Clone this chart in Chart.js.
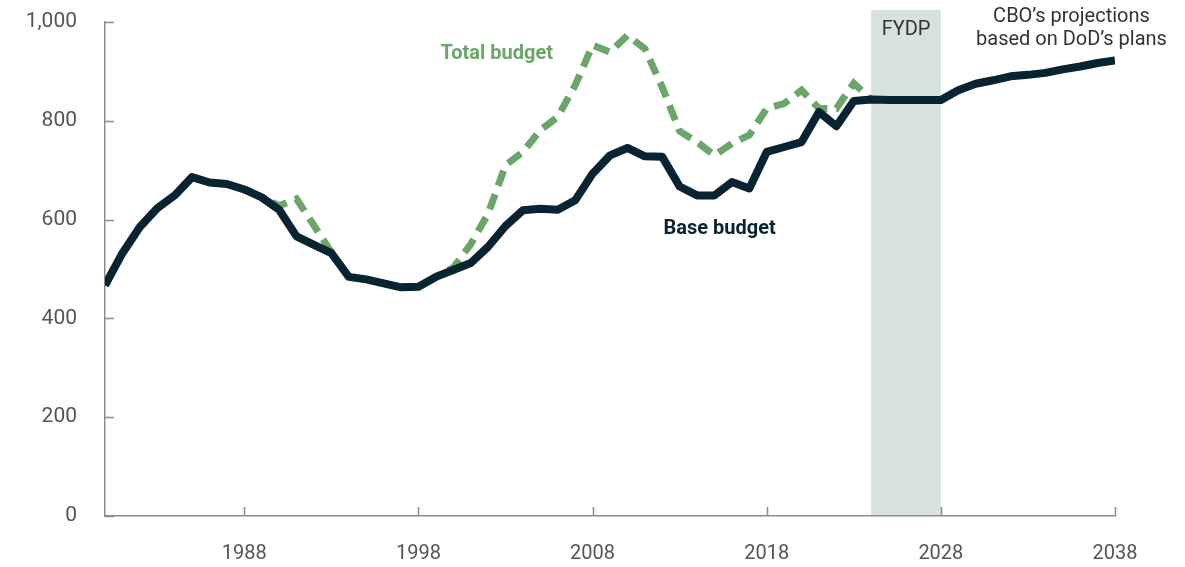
<!DOCTYPE html>
<html>
<head>
<meta charset="utf-8">
<script src="https://cdn.jsdelivr.net/npm/chart.js@4.4.1/dist/chart.umd.min.js"></script>
<style>
  html, body { margin: 0; padding: 0; background: #fff; }
  #wrap { width: 1185px; height: 567px; }
</style>
</head>
<body>
<div id="wrap"><canvas id="budgetChart" width="1185" height="567"></canvas></div>
<script>
// years 1980 - 2038
const years = [];
for (let y = 1980; y <= 2038; y++) years.push(y);

// base budget, billions of dollars
const baseBudget = [
  467, 532, 585, 623, 649, 686, 675, 672, 661, 645,   // 1980-1989
  620, 566, 549, 532, 484, 479, 471, 463, 464, 484,   // 1990-1999
  498, 512, 545, 587, 619, 622, 620, 639, 693, 730,   // 2000-2009
  745, 728, 727, 667, 649, 649, 676, 663, 737, 747,   // 2010-2019
  757, 818, 789, 840, 843, 842, 842, 842, 842, 862,   // 2020-2029
  875, 882, 890, 893, 897, 904, 910, 917, 922         // 2030-2038
];

// total budget (base + war funding), ends with the last actual year
const totalBudget = [
  467, 532, 585, 623, 649, 686, 675, 672, 661, 645,   // 1980-1989
  628, 642, 588, 534, 484, 479, 471, 463, 464, 484,   // 1990-1999
  503, 550, 612, 710, 737, 781, 808, 872, 953, 939,   // 2000-2009
  973, 946, 868, 779, 757, 730, 754, 771, 825, 835,   // 2010-2019
  862, 825, 825, 876, 843, null, null, null, null, null,
  null, null, null, null, null, null, null, null, null
];

const xTicks = [1988, 1998, 2008, 2018, 2028, 2038];
const yTicks = [0, 200, 400, 600, 800, 1000];
const fydpStart = 2024;
const fydpEnd = 2028;

const navy = '#082331';
const green = '#6aa66a';
const axisGray = '#8c8c8c';
const textGray = '#555555';

// shaded FYDP band, drawn before the axes
const bandPlugin = {
  id: 'fydpBand',
  beforeDraw(chart) {
    const { ctx, chartArea, scales } = chart;
    const x0 = scales.x.getPixelForValue(fydpStart);
    const x1 = scales.x.getPixelForValue(fydpEnd);
    ctx.save();
    ctx.fillStyle = '#d7e2dc';
    ctx.fillRect(x0, chartArea.top - 12, x1 - x0, chartArea.bottom - chartArea.top + 12);
    ctx.restore();
  }
};

// inside tick marks on both axes
const tickPlugin = {
  id: 'insideTicks',
  afterDraw(chart) {
    const { ctx, chartArea, scales } = chart;
    ctx.save();
    ctx.strokeStyle = axisGray;
    ctx.lineWidth = 1.5;
    ctx.beginPath();
    xTicks.forEach(v => {
      const px = Math.round(scales.x.getPixelForValue(v)) + 0.5;
      ctx.moveTo(px, chartArea.bottom);
      ctx.lineTo(px, chartArea.bottom - 9);
    });
    yTicks.forEach(v => {
      const py = Math.round(scales.y.getPixelForValue(v)) + 0.5;
      ctx.moveTo(chartArea.left, py);
      ctx.lineTo(chartArea.left + 9, py);
    });
    ctx.stroke();
    ctx.restore();
  }
};

// text labels on the plot
const labelPlugin = {
  id: 'labels',
  afterDatasetsDraw(chart) {
    const { ctx, scales } = chart;
    const put = (txt, xv, yv, font, color) => {
      ctx.font = font;
      ctx.fillStyle = color;
      ctx.textAlign = 'center';
      ctx.textBaseline = 'middle';
      ctx.fillText(txt, scales.x.getPixelForValue(xv), scales.y.getPixelForValue(yv));
    };
    ctx.save();
    put('Total budget', 2002.5, 935, 'bold 20px Roboto', green);
    put('Base budget', 2015.3, 581, 'bold 20px Roboto', navy);
    put('FYDP', 2026, 983, '20px Roboto', '#333333');
    put('CBO\u2019s projections', 2035.5, 1010, '20px Roboto', '#333333');
    put('based on DoD\u2019s plans', 2035.5, 964, '20px Roboto', '#333333');
    ctx.restore();
  }
};

new Chart(document.getElementById('budgetChart'), {
  type: 'line',
  data: {
    labels: years,
    datasets: [
      {
        label: 'Base budget',
        data: baseBudget,
        borderColor: navy,
        borderWidth: 8,
        borderJoinStyle: 'round',
        pointRadius: 0,
        tension: 0
      },
      {
        label: 'Total budget',
        data: totalBudget,
        borderColor: green,
        borderWidth: 7,
        borderDash: [16, 9],
        pointRadius: 0,
        tension: 0
      }
    ]
  },
  options: {
    responsive: false,
    animation: false,
    layout: { padding: { top: 22, right: 70, left: 0, bottom: 0 } },
    plugins: {
      legend: { display: false },
      tooltip: { enabled: false }
    },
    scales: {
      x: {
        type: 'linear',
        min: 1980,
        max: 2038,
        afterBuildTicks: scale => { scale.ticks = xTicks.map(v => ({ value: v })); },
        afterFit: scale => { scale.height = 51; scale.paddingLeft = 0; scale.paddingRight = 0; },
        grid: { display: false },
        border: { display: true, color: axisGray, width: 1.5 },
        ticks: {
          color: textGray,
          font: { family: 'Roboto', size: 20 },
          padding: 18,
          maxRotation: 0,
          callback: v => String(v)
        }
      },
      y: {
        min: 0,
        max: 1000,
        afterBuildTicks: scale => { scale.ticks = yTicks.map(v => ({ value: v })); },
        afterFit: scale => { scale.width = 105; scale.paddingTop = 0; scale.paddingBottom = 0; },
        grid: { display: false },
        border: { display: true, color: axisGray, width: 1.5 },
        ticks: {
          color: textGray,
          font: { family: 'Roboto', size: 21 },
          padding: 20,
          callback: v => v.toLocaleString('en-US')
        }
      }
    }
  },
  plugins: [bandPlugin, tickPlugin, labelPlugin]
});
</script>
</body>
</html>
